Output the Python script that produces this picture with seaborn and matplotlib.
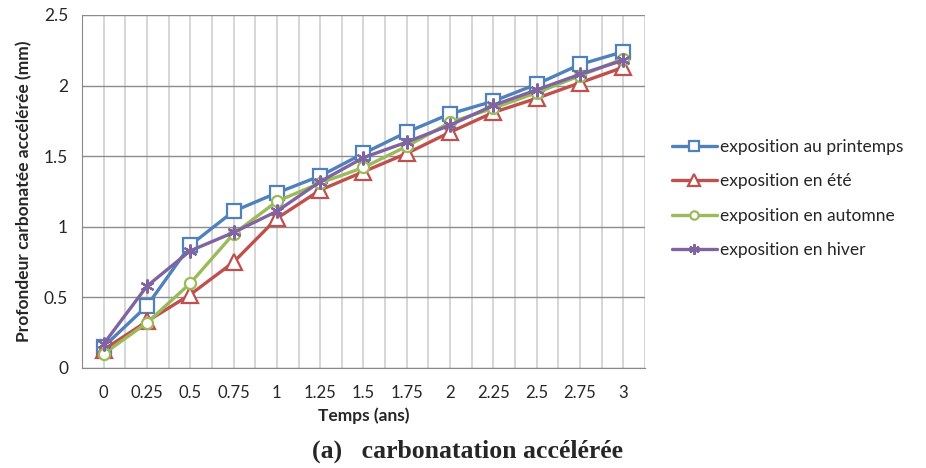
import matplotlib.pyplot as plt
import pandas as pd
import seaborn as sns
from matplotlib.ticker import MultipleLocator

# temps en années et profondeurs
temps = [0, 0.25, 0.5, 0.75, 1, 1.25, 1.5, 1.75, 2, 2.25, 2.5, 2.75, 3]
temps_labels = ['0', '0.25', '0.5', '0.75', '1', '1.25', '1.5', '1.75', '2', '2.25', '2.5', '2.75', '3']

printemps = [0.15, 0.44, 0.87, 1.11, 1.24, 1.36, 1.52, 1.67, 1.80, 1.89, 2.01, 2.15, 2.24]
ete = [0.13, 0.33, 0.52, 0.75, 1.06, 1.26, 1.39, 1.52, 1.67, 1.81, 1.91, 2.02, 2.13]
automne = [0.10, 0.32, 0.60, 0.95, 1.18, 1.31, 1.42, 1.57, 1.74, 1.84, 1.95, 2.07, 2.19]
hiver = [0.17, 0.58, 0.83, 0.96, 1.11, 1.32, 1.49, 1.60, 1.72, 1.86, 1.97, 2.08, 2.18]

series = ['exposition au printemps', 'exposition en été', 'exposition en automne', 'exposition en hiver']

df = pd.DataFrame({'temps': temps, series[0]: printemps, series[1]: ete,
                   series[2]: automne, series[3]: hiver})

couleurs = ['#4F81BD', '#C0504D', '#9BBB59', '#8064A2']
marqueurs = ['s', '^', 'o', (6, 2, 0)]
tailles = [10, 11, 8, 10]

sns.set_style('white')
plt.rcParams['font.family'] = ['Lato', 'DejaVu Sans']

fig = plt.figure(figsize=(9.26, 4.68), dpi=100)
ax = fig.add_axes([82 / 926, 1 - 368 / 468, (645 - 82) / 926, (368 - 15) / 468])

for nom, c, m, s in zip(series, couleurs, marqueurs, tailles):
    sns.lineplot(data=df, x='temps', y=nom, ax=ax, color=c, marker=m, markersize=s,
                 markerfacecolor='white', markeredgecolor=c, markeredgewidth=1.6,
                 linewidth=2.4, label=nom)

ax.set_xlim(-0.125, 3.125)
ax.set_ylim(0, 2.5)
ax.set_xticks(temps)
ax.set_xticklabels(temps_labels, fontsize=12)
ax.xaxis.set_minor_locator(MultipleLocator(0.125))
ax.set_yticks([0, 0.5, 1, 1.5, 2, 2.5])
ax.set_yticklabels(['0', '0.5', '1', '1.5', '2', '2.5'], fontsize=12.5)
ax.tick_params(axis='x', which='major', length=0, pad=12)
ax.tick_params(axis='x', which='minor', length=5, color='#888888', direction='out')
ax.tick_params(axis='y', length=5, color='#888888', direction='out', pad=5)

ax.grid(axis='y', which='major', color='#8c8c8c', linewidth=1)
ax.grid(axis='x', which='both', color='#cfcfcf', linewidth=1.2)
ax.set_axisbelow(True)
for sp in ['top', 'right']:
    ax.spines[sp].set_visible(False)
ax.spines['left'].set_color('#888888')
ax.spines['bottom'].set_color('#888888')

ax.set_xlabel('Temps (ans)', fontsize=12.5, fontweight='bold', labelpad=5)
ax.set_ylabel('Profondeur carbonatée accélérée (mm)', fontsize=12.5, fontweight='bold', labelpad=8)

ax.legend(loc='center left', bbox_to_anchor=(1.02, 0.48), frameon=False, fontsize=12.5,
          handlelength=2.6, labelspacing=1.05, handletextpad=0.15, markerscale=0.75)

fig.text(0.505, 0.022, '(a)   carbonatation accélérée', ha='center', fontsize=18.5,
         fontweight='bold', family=['Liberation Serif', 'DejaVu Serif'])

fig.savefig('out.png', dpi=100)
